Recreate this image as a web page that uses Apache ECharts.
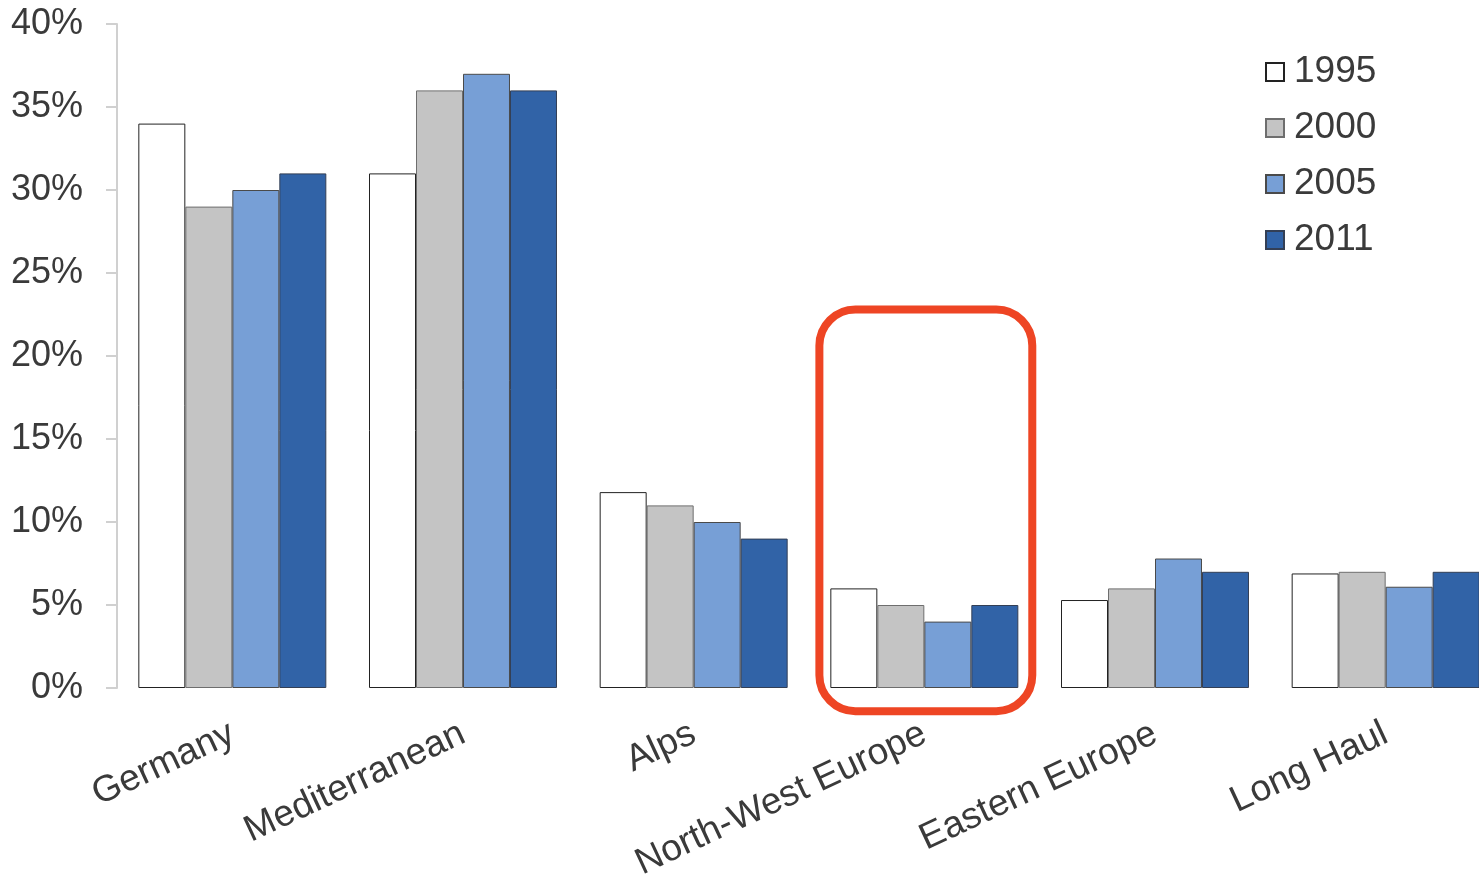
<!DOCTYPE html>
<html>
<head>
<meta charset="utf-8">
<script src="https://cdn.jsdelivr.net/npm/echarts@6/dist/echarts.min.js"></script>
<style>
html,body{margin:0;padding:0;background:#fff;}
#c{width:1479px;height:874px;}
</style>
</head>
<body>
<div id="c"></div>
<script>
const categories = ['Germany', 'Mediterranean', 'Alps', 'North-West Europe', 'Eastern Europe', 'Long Haul'];
const seriesNames = ['1995', '2000', '2005', '2011'];
const values1995 = [34, 31, 11.8, 6, 5.3, 6.9];
const values2000 = [29, 36, 11, 5, 6, 7];
const values2005 = [30, 37, 10, 4, 7.8, 6.1];
const values2011 = [31, 36, 9, 5, 7, 7];
const yTicks = [0, 5, 10, 15, 20, 25, 30, 35, 40];
const highlightIndex = 3;
const highlightRange = [-1.4, 22.8];

const colors = ['#ffffff', '#c4c4c4', '#779fd6', '#3163a7'];
const borders = ['#222222', '#6e6e6e', '#4a4a4a', '#333f55'];
const allValues = [values1995, values2000, values2005, values2011];
const font = '"Liberation Sans", Arial, sans-serif';

const chart = echarts.init(document.getElementById('c'));
chart.setOption({
  animation: false,
  textStyle: { fontFamily: font },
  grid: { left: 117, width: 1384, top: 24, bottom: 186, containLabel: false, outerBoundsMode: 'none' },
  legend: {
    orient: 'vertical',
    left: 1260,
    top: 48,
    itemWidth: 18,
    itemHeight: 18,
    itemGap: 18,
    icon: 'rect',
    data: seriesNames,
    textStyle: { fontSize: 37, color: '#3a3a3a', fontFamily: font, padding: [0, 0, 0, 5], lineHeight: 38 }
  },
  xAxis: {
    type: 'category',
    data: categories,
    axisLine: { show: false },
    axisTick: { show: false },
    axisLabel: {
      rotate: 25,
      margin: 44,
      fontSize: 37,
      color: '#3a3a3a',
      fontFamily: font,
      interval: 0
    }
  },
  yAxis: {
    type: 'value',
    min: 0,
    max: 40,
    interval: 5,
    splitLine: { show: false },
    axisLine: { show: true, lineStyle: { color: '#d0d0d0', width: 2 } },
    axisTick: { show: true, inside: false, length: 11, lineStyle: { color: '#d0d0d0', width: 2 } },
    axisLabel: {
      margin: 34,
      fontSize: 36,
      color: '#3a3a3a',
      fontFamily: font,
      formatter: v => yTicks.includes(v) ? v + '%' : ''
    }
  },
  series: seriesNames.map((name, i) => ({
    name: name,
    type: 'bar',
    data: allValues[i],
    barGap: '0%',
    barCategoryGap: '18.5%',
    itemStyle: { color: colors[i], borderColor: borders[i], borderWidth: 1 }
  }))
});

function drawHighlight() {
  const cx = chart.convertToPixel({ xAxisIndex: 0 }, highlightIndex);
  const c0 = chart.convertToPixel({ xAxisIndex: 0 }, 0);
  const c1 = chart.convertToPixel({ xAxisIndex: 0 }, 1);
  const band = c1 - c0;
  const yTop = chart.convertToPixel({ yAxisIndex: 0 }, highlightRange[1]);
  const yBot = chart.convertToPixel({ yAxisIndex: 0 }, highlightRange[0]);
  const x0 = cx - band * 0.455;
  const x1 = cx + band * 0.468;
  chart.setOption({
    graphic: [{
      type: 'rect',
      shape: { x: x0, y: yTop, width: x1 - x0, height: yBot - yTop, r: 36 },
      style: { fill: 'none', stroke: '#ee4524', lineWidth: 8 },
      z: 100
    }]
  });
}
drawHighlight();
</script>
</body>
</html>
